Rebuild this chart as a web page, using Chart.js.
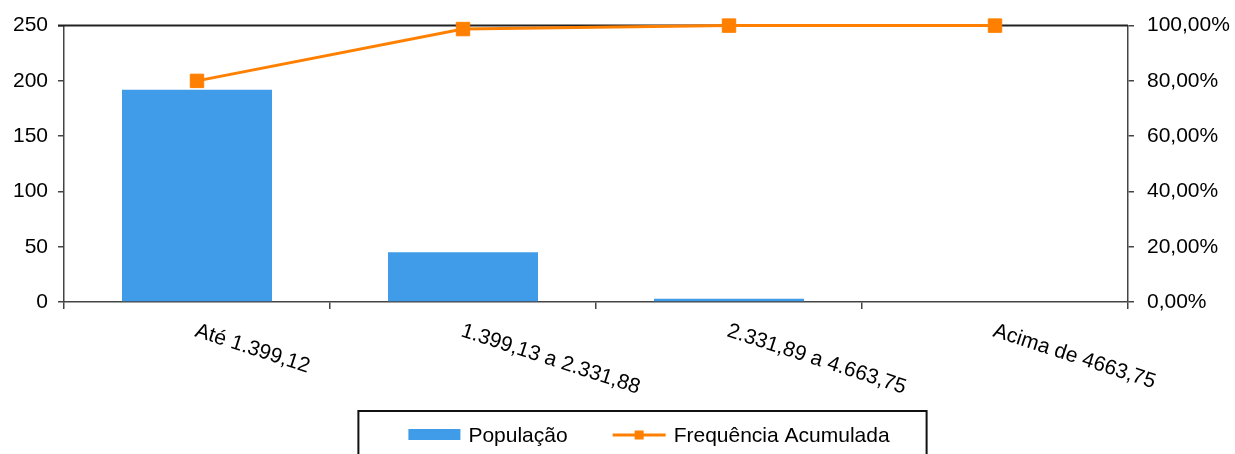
<!DOCTYPE html>
<html>
<head>
<meta charset="utf-8">
<script src="https://cdn.jsdelivr.net/npm/chart.js@4.4.0/dist/chart.umd.min.js"></script>
<style>
  html, body { margin: 0; padding: 0; background: #fff; }
</style>
</head>
<body>
<canvas id="graph" width="1235" height="454"></canvas>
<script>
var categories = ['Até 1.399,12', '1.399,13 a 2.331,88', '2.331,89 a 4.663,75', 'Acima de 4663,75'];
var populacao = [192, 45, 3, 0];
var freqAcumulada = [80, 98.75, 100, 100];
var leftTicks = [0, 50, 100, 150, 200, 250];
var rightTicks = [0, 20, 40, 60, 80, 100];

var FONT = '"Liberation Sans", Arial, sans-serif';
var BLUE = '#409BE9';
var ORANGE = '#FF8000';
var AXIS = '#444';

Chart.defaults.font.family = FONT;
Chart.defaults.font.size = 21;
Chart.defaults.color = '#000';

var context = document.querySelector('#graph').getContext('2d');

// top border of the plot box
var frame = {
  id: 'frame',
  beforeDatasetsDraw: function(chart) {
    var a = chart.chartArea, ctx = chart.ctx;
    ctx.save();
    ctx.strokeStyle = '#222';
    ctx.lineWidth = 2;
    ctx.beginPath();
    ctx.moveTo(a.left - 6, a.top);
    ctx.lineTo(a.right, a.top);
    ctx.stroke();
    ctx.restore();
  }
};

// slanted category labels (clockwise)
var slantLabels = {
  id: 'slantLabels',
  afterDraw: function(chart) {
    var xs = chart.scales.x, ctx = chart.ctx;
    ctx.save();
    ctx.font = '21px ' + FONT;
    ctx.fillStyle = '#000';
    ctx.textAlign = 'left';
    ctx.textBaseline = 'alphabetic';
    chart.data.labels.forEach(function(lbl, i) {
      var x = xs.getPixelForValue(i);
      ctx.save();
      ctx.translate(x - 3, xs.top + 34);
      ctx.rotate(18 * Math.PI / 180);
      ctx.fillText(lbl, 0, 0);
      ctx.restore();
    });
    ctx.restore();
  }
};

// boxed legend at the bottom
var boxLegend = {
  id: 'boxLegend',
  afterDraw: function(chart) {
    var ctx = chart.ctx;
    var ds = chart.data.datasets;
    ctx.save();
    ctx.font = '21px ' + FONT;
    var w1 = ctx.measureText(ds[0].label).width;
    var w2 = ctx.measureText(ds[1].label).width;
    var itemsW = 52 + 8 + w1 + 45 + 53 + 8 + w2;
    var boxW = itemsW + 87;
    var boxLeft = chart.width / 2 + 25 - boxW / 2;
    var top = 411, cy = 435;
    ctx.strokeStyle = '#111';
    ctx.lineWidth = 2;
    ctx.strokeRect(boxLeft, top, boxW, 80);

    var x = boxLeft + 50;
    ctx.fillStyle = ds[0].backgroundColor;
    ctx.fillRect(x, cy - 6, 52, 11);
    x += 60;
    ctx.fillStyle = '#000';
    ctx.textBaseline = 'middle';
    ctx.fillText(ds[0].label, x, cy + 1);
    x += w1 + 45;
    ctx.strokeStyle = ds[1].borderColor;
    ctx.lineWidth = 3;
    ctx.beginPath();
    ctx.moveTo(x, cy);
    ctx.lineTo(x + 53, cy);
    ctx.stroke();
    ctx.fillStyle = ds[1].borderColor;
    ctx.fillRect(x + 26.5 - 4.5, cy - 4.5, 9, 9);
    x += 61;
    ctx.fillStyle = '#000';
    ctx.fillText(ds[1].label, x, cy + 1);
    ctx.restore();
  }
};

var chart = new Chart(context, {
  type: 'bar',
  data: {
    labels: categories,
    datasets: [{
      type: 'bar',
      label: 'População',
      data: populacao,
      backgroundColor: BLUE,
      borderWidth: 0,
      barPercentage: 0.564,
      categoryPercentage: 1,
      yAxisID: 'y',
      order: 2
    }, {
      type: 'line',
      label: 'Frequência Acumulada',
      data: freqAcumulada,
      borderColor: ORANGE,
      backgroundColor: ORANGE,
      borderWidth: 3,
      pointStyle: 'rect',
      pointRadius: 9.5,
      pointBorderWidth: 1,
      pointBackgroundColor: ORANGE,
      pointBorderColor: ORANGE,
      tension: 0,
      clip: false,
      yAxisID: 'y1',
      order: 1
    }]
  },
  options: {
    responsive: false,
    animation: false,
    devicePixelRatio: 1,
    layout: { padding: { top: 25, left: 0, right: 0, bottom: 0 } },
    plugins: {
      legend: { display: false },
      tooltip: { enabled: false }
    },
    scales: {
      x: {
        offset: true,
        grid: { offset: true, drawOnChartArea: false, drawTicks: true, tickLength: 7, color: AXIS, lineWidth: 1.5 },
        border: { color: AXIS, width: 1.5 },
        ticks: { display: false },
        afterFit: function(s) { s.height = 152; }
      },
      y: {
        position: 'left',
        min: 0,
        max: 250,
        afterBuildTicks: function(s) { s.ticks = leftTicks.map(function(v) { return { value: v }; }); },
        grid: { drawOnChartArea: false, tickLength: 6, color: AXIS, lineWidth: 1.5 },
        border: { color: AXIS, width: 1.5 },
        ticks: { padding: 10, font: { size: 21 } },
        afterFit: function(s) { s.width = 64; }
      },
      y1: {
        position: 'right',
        min: 0,
        max: 100,
        afterBuildTicks: function(s) { s.ticks = rightTicks.map(function(v) { return { value: v }; }); },
        grid: { drawOnChartArea: false, tickLength: 6, color: AXIS, lineWidth: 1.5 },
        border: { color: AXIS, width: 1.5 },
        ticks: {
          padding: 13,
          font: { size: 21 },
          callback: function(v) { return v.toFixed(2).replace('.', ',') + '%'; }
        },
        afterFit: function(s) { s.width = 107; }
      }
    }
  },
  plugins: [frame, slantLabels, boxLegend]
});
</script>
</body>
</html>
